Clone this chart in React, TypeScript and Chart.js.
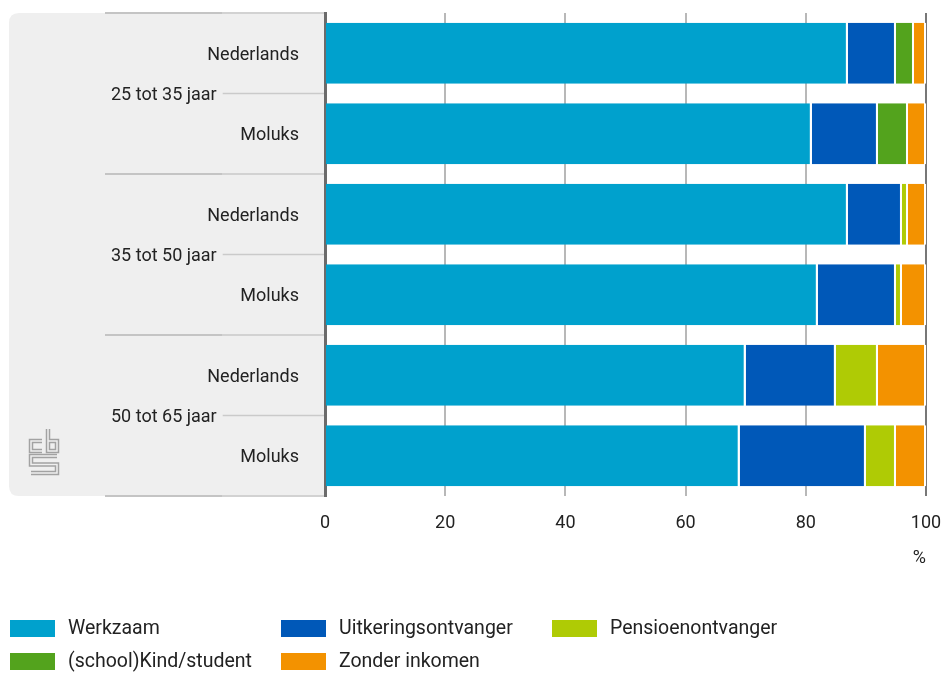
import React, { useEffect, useRef } from "react";
import { Chart, registerables } from "chart.js";

Chart.register(...registerables);

const categories = ["Nederlands", "Moluks", "Nederlands", "Moluks", "Nederlands", "Moluks"];
const groups = ["25 tot 35 jaar", "35 tot 50 jaar", "50 tot 65 jaar"];
const werkzaam = [87, 81, 87, 82, 70, 69];
const uitkering = [8, 11, 9, 13, 15, 21];
const pensioen = [0, 0, 1, 1, 7, 5];
const kind = [3, 5, 0, 0, 0, 0];
const zonder = [2, 3, 3, 4, 8, 5];
const xTicks = [0, 20, 40, 60, 80, 100];

const seriesNames = ["Werkzaam", "Uitkeringsontvanger", "Pensioenontvanger", "(school)Kind/student", "Zonder inkomen"];
const seriesColors = ["#00a1cd", "#0058b8", "#afcb05", "#53a31d", "#f39200"];

const FONT = "Roboto, 'Noto Sans', sans-serif";
const TEXT = "#222222";
const PANEL = "#efefef";

const zeroPadding = (scale: any) => {
  scale.paddingTop = 0;
  scale.paddingBottom = 0;
  scale.paddingLeft = 0;
  scale.paddingRight = 0;
};

const panelPlugin = {
  id: "panelPlugin",
  beforeDraw(chart: any) {
    const { ctx, chartArea } = chart;
    const yScale = chart.scales.y;
    const left = 9;
    const right = chartArea.left;
    const top = chartArea.top;
    const bottom = chartArea.bottom;
    const r = 10;
    ctx.save();
    ctx.fillStyle = PANEL;
    ctx.beginPath();
    ctx.moveTo(right, top);
    ctx.lineTo(left + r, top);
    ctx.quadraticCurveTo(left, top, left, top + r);
    ctx.lineTo(left, bottom - r);
    ctx.quadraticCurveTo(left, bottom, left + r, bottom);
    ctx.lineTo(right, bottom);
    ctx.closePath();
    ctx.fill();

    // separator lines between groups
    const seps: number[] = [top];
    for (let g = 0; g < groups.length - 1; g++) {
      const a = yScale.getPixelForValue(2 * g + 1);
      const b = yScale.getPixelForValue(2 * g + 2);
      seps.push((a + b) / 2);
    }
    seps.push(bottom);
    ctx.lineWidth = 2;
    seps.forEach((y) => {
      ctx.strokeStyle = "#c4c4c4";
      ctx.beginPath();
      ctx.moveTo(105, y);
      ctx.lineTo(222, y);
      ctx.stroke();
      ctx.strokeStyle = "#d2d2d2";
      ctx.beginPath();
      ctx.moveTo(222, y);
      ctx.lineTo(right, y);
      ctx.stroke();
    });

    // group labels
    ctx.font = `18px ${FONT}`;
    ctx.fillStyle = TEXT;
    ctx.textAlign = "left";
    ctx.textBaseline = "middle";
    groups.forEach((g, i) => {
      const a = yScale.getPixelForValue(2 * i);
      const b = yScale.getPixelForValue(2 * i + 1);
      const y = (a + b) / 2;
      ctx.fillText(g, 111, y + 1.5);
      const w = ctx.measureText(g).width;
      ctx.strokeStyle = "#cacaca";
      ctx.lineWidth = 1.5;
      ctx.beginPath();
      ctx.moveTo(111 + w + 6, y);
      ctx.lineTo(right, y);
      ctx.stroke();
    });

    // cbs logo
    const paths: number[][][] = [
      [[42, 441], [31, 441], [31, 451], [42, 451]],
      [[48, 429], [48, 451], [57, 451], [57, 441], [48, 441]],
      [[57, 456], [31, 456], [31, 464.5], [57, 464.5], [57, 473], [31, 473]],
    ];
    const stroke = (w: number, c: string) => {
      ctx.lineWidth = w;
      ctx.strokeStyle = c;
      ctx.lineJoin = "miter";
      ctx.lineCap = "butt";
      paths.forEach((p) => {
        ctx.beginPath();
        p.forEach(([x, y], k) => (k === 0 ? ctx.moveTo(x, y) : ctx.lineTo(x, y)));
        ctx.stroke();
      });
    };
    stroke(4.5, "#a2a2a2");
    stroke(1.5, PANEL);
    ctx.restore();
  },
  afterDraw(chart: any) {
    const { ctx } = chart;
    ctx.save();
    ctx.font = `19.5px ${FONT}`;
    ctx.textAlign = "left";
    ctx.textBaseline = "middle";
    chart.data.datasets.forEach((ds: any, i: number) => {
      const col = i % 3;
      const row = Math.floor(i / 3);
      const x = 10 + col * 271;
      const y = 620 + row * 33;
      ctx.fillStyle = ds.backgroundColor;
      ctx.fillRect(x, y, 45, 17);
      ctx.fillStyle = TEXT;
      ctx.fillText(ds.label, x + 58, y + 9);
    });
    ctx.restore();
  },
};

export default function App() {
  const ref = useRef<HTMLCanvasElement>(null);
  useEffect(() => {
    document.body.style.margin = "0";
    const canvas = ref.current!;
    const values = [werkzaam, uitkering, pensioen, kind, zonder];
    const chart = new Chart(canvas, {
      type: "bar",
      data: {
        labels: categories,
        datasets: values.map((v, i) => ({
          label: seriesNames[i],
          data: v,
          backgroundColor: seriesColors[i],
          borderColor: "#ffffff",
          borderWidth: { top: 0, bottom: 0, left: 0, right: 2 },
          borderSkipped: false,
          barPercentage: 0.76,
          categoryPercentage: 1,
        })),
      },
      options: {
        indexAxis: "y",
        animation: false,
        responsive: false,
        devicePixelRatio: 1,
        layout: { padding: { left: 9, right: 17, top: 13, bottom: 77 } },
        plugins: { legend: { display: false }, tooltip: { enabled: false } },
        scales: {
          x: {
            stacked: true,
            min: 0,
            max: 100,
            afterBuildTicks: (scale: any) => {
              scale.ticks = xTicks.map((v) => ({ value: v }));
            },
            afterFit: (scale: any) => {
              scale.height = 100;
              zeroPadding(scale);
            },
            grid: {
              drawTicks: false,
              color: (c: any) => (c.tick && c.tick.value === 100 ? "#777777" : "#b8b8b8"),
              lineWidth: 2,
            },
            border: { display: false },
            ticks: { padding: 17, font: { size: 18, family: FONT }, color: TEXT },
            title: {
              display: true,
              text: "%",
              align: "end",
              font: { size: 18, family: FONT },
              color: TEXT,
              padding: { top: 0, bottom: 27 },
            },
          },
          y: {
            stacked: true,
            z: 1,
            afterFit: (scale: any) => {
              scale.width = 316;
              zeroPadding(scale);
            },
            grid: { display: false, drawTicks: false },
            border: { display: true, color: "#6b6b6b", width: 3 },
            ticks: { padding: 26, labelOffset: 2, font: { size: 18, family: FONT }, color: TEXT },
          },
        },
      },
      plugins: [panelPlugin],
    } as any);
    return () => chart.destroy();
  }, []);
  return (
    <div style={{ width: 943, height: 673 }}>
      <canvas ref={ref} width={943} height={673} style={{ display: "block", width: 943, height: 673 }} />
    </div>
  );
}
